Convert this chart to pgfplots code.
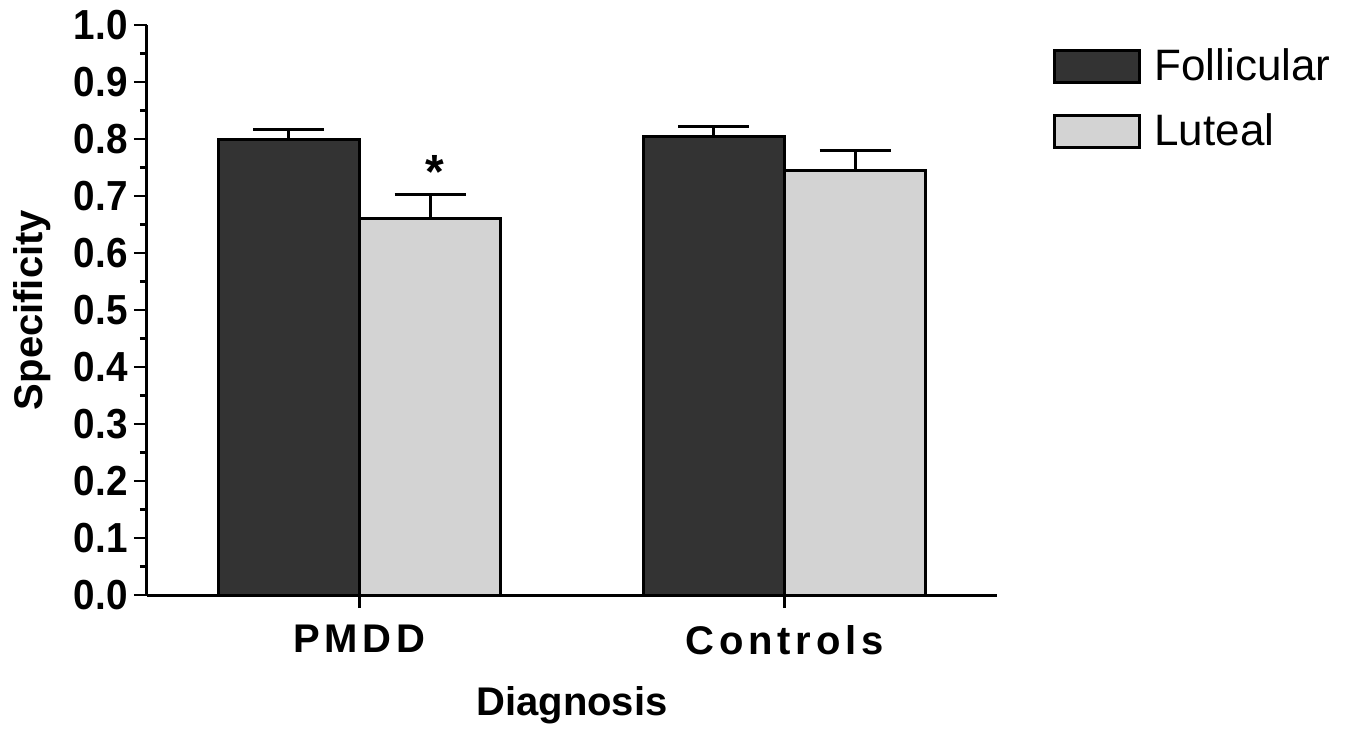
\documentclass[border=0pt]{standalone}
\usepackage{fontspec}
\setmainfont{Liberation Sans}
\newfontfamily\spacedfont[LetterSpace=12]{Liberation Sans}
\newfontfamily\tickfont[FakeStretch=0.92]{Liberation Sans}
\usepackage{pgfplots}
\pgfplotsset{compat=1.18}
\definecolor{darkbar}{HTML}{333333}
\definecolor{lightbar}{HTML}{D3D3D3}
\begin{document}
\begin{tikzpicture}
\useasboundingbox (-73.5pt,-67.5pt) rectangle (601.5pt,297.5pt);
\begin{axis}[
  at={(0pt,0pt)}, anchor=south west,
  scale only axis, width=425pt, height=285pt,
  xmin=-0.5, xmax=1.5, ymin=0, ymax=1,
  axis x line*=bottom, axis y line*=left,
  axis line style={line width=1.5pt, -},
  tick align=outside,
  major tick length=6.5pt, minor tick length=3.5pt,
  tick style={line width=1.3pt, black},
  xtick={0,1}, xticklabels={PMDD, Controls},
  ytick={0,0.1,0.2,0.3,0.4,0.5,0.6,0.7,0.8,0.9,1.0},
  minor y tick num=1,
  /pgf/number format/.cd, fixed, fixed zerofill, precision=1, assume math mode=true,
  /pgfplots/.cd,
  yticklabel style={font=\tickfont\bfseries\fontsize{21}{25}\selectfont, inner sep=0pt, xshift=-3pt},
  xticklabel style={font=\spacedfont\bfseries\fontsize{20}{24}\selectfont, inner sep=0pt, yshift=-8.5pt},
  ylabel={Specificity},
  ylabel style={font=\bfseries\fontsize{20}{24}\selectfont, at={(axis description cs:-0.1353,0.5)}, anchor=center},
  xlabel={Diagnosis},
  xlabel style={font=\bfseries\fontsize{20}{24}\selectfont, at={(axis description cs:0.5,-0.193)}, anchor=center},
  legend image code/.code={\draw[#1, line width=1.5pt] (0pt,-8pt) rectangle (42.5pt,8pt);},
  legend cell align=left,
  legend style={draw=none, fill=none, at={(axis description cs:1.0659,0.959)}, anchor=north west,
    font=\fontsize{22}{26}\selectfont, row sep=15pt, inner sep=0pt,
    nodes={inner sep=0pt}},
  /tikz/every odd column/.append style={column sep=6.5pt},
]
\addplot[ybar, bar width=0.332, bar shift=0pt, fill=darkbar, draw=black, line width=1.5pt,
  error bars/.cd, y dir=plus, y explicit, error mark=|,
  error bar style={line width=1.5pt, black},
  error mark options={mark size=17.75pt, line width=1.5pt, black}]
  coordinates {(-0.166,0.800) +- (0,0.017) (0.834,0.804) +- (0,0.018)};
\addlegendentry{Follicular}
\addplot[ybar, bar width=0.332, bar shift=0pt, fill=lightbar, draw=black, line width=1.5pt,
  error bars/.cd, y dir=plus, y explicit, error mark=|,
  error bar style={line width=1.5pt, black},
  error mark options={mark size=17.75pt, line width=1.5pt, black}]
  coordinates {(0.166,0.660) +- (0,0.042) (1.166,0.744) +- (0,0.035)};
\addlegendentry{Luteal}
\node[font=\bfseries\fontsize{24}{28}\selectfont, anchor=base, inner sep=0pt] at (axis cs:0.178,0.714) {*};
\end{axis}
\end{tikzpicture}
\end{document}
